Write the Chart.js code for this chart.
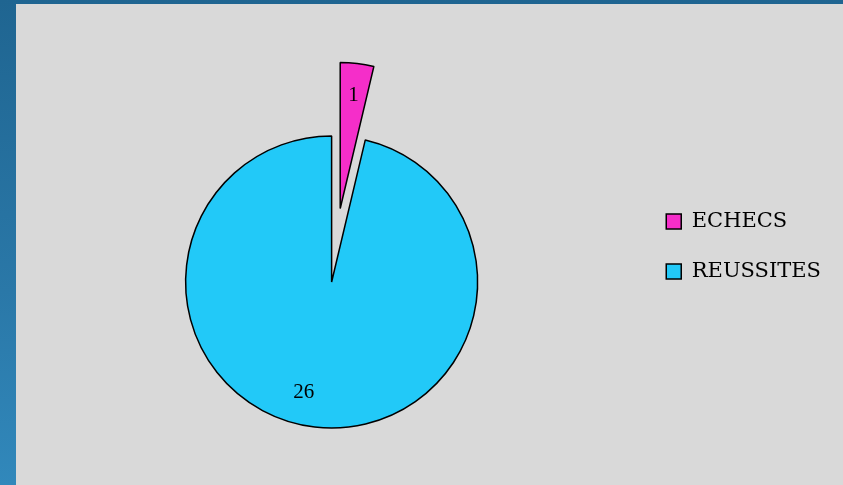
<!DOCTYPE html>
<html>
<head>
<meta charset="utf-8">
<script src="https://cdn.jsdelivr.net/npm/chart.js@4.4.0/dist/chart.umd.min.js"></script>
<style>
    html, body {
        margin: 0;
        padding: 0;
        width: 843px;
        height: 485px;
        overflow: hidden;
        background: linear-gradient(to bottom, #1f6591 0%, #2a78a8 60%, #3188bb 100%);
    }
    #panel {
        position: absolute;
        left: 16px;
        top: 4px;
        width: 827px;
        height: 481px;
        background: #d9d9d9;
    }
</style>
</head>
<body>
<div id="panel"><canvas id="pieChart" width="827" height="481"></canvas></div>
<script>
var categories = ["ECHECS", "REUSSITES"];
var values = [1, 26];
var sliceColors = ["#f52ec9", "#22c9f8"];

// pulls the first slice out of the pie, like the exploded slice in the original
var explodeSlice = {
    id: "explodeSlice",
    beforeDatasetsDraw: function (chart) {
        var arcs = chart.getDatasetMeta(0).data;
        var base = arcs[1];
        var a = arcs[0];
        var mid = (a.startAngle + a.endAngle) / 2;
        a.x = base.x + Math.cos(mid) * 74;
        a.y = base.y + Math.sin(mid) * 74;
    }
};

// value labels inside the slices
var sliceLabels = {
    id: "sliceLabels",
    afterDatasetsDraw: function (chart) {
        var ctx = chart.ctx;
        var arcs = chart.getDatasetMeta(0).data;
        var tweak = [0, 0.13];
        ctx.save();
        ctx.fillStyle = "#000";
        ctx.font = "21px 'Liberation Serif', serif";
        ctx.textAlign = "center";
        ctx.textBaseline = "middle";
        for (var i in arcs) {
            var a = arcs[i];
            var mid = (a.startAngle + a.endAngle) / 2 + tweak[i];
            var r = a.outerRadius * 0.78;
            ctx.fillText(values[i], a.x + Math.cos(mid) * r, a.y + Math.sin(mid) * r);
        }
        ctx.restore();
    }
};

var ctx = document.getElementById("pieChart").getContext("2d");
new Chart(ctx, {
    type: "pie",
    data: {
        labels: categories,
        datasets: [
            {
                data: values,
                backgroundColor: sliceColors,
                borderColor: "#000",
                borderWidth: 1.5,
                radius: 146
            }
        ]
    },
    options: {
        responsive: false,
        animation: false,
        layout: {
            padding: {left: 10, right: 12, top: 4, bottom: 0}
        },
        plugins: {
            // empty title only used to push the pie down, the legend keeps full height
            title: {
                display: true,
                text: " ",
                fullSize: false,
                font: {size: 10},
                padding: {top: 0, bottom: 59}
            },
            legend: {
                position: "right",
                labels: {
                    boxWidth: 15,
                    boxHeight: 15,
                    padding: 29,
                    color: "#000",
                    font: {family: "'DejaVu Serif', serif", size: 21}
                }
            },
            tooltip: {enabled: false}
        }
    },
    plugins: [explodeSlice, sliceLabels]
});
</script>
</body>
</html>
